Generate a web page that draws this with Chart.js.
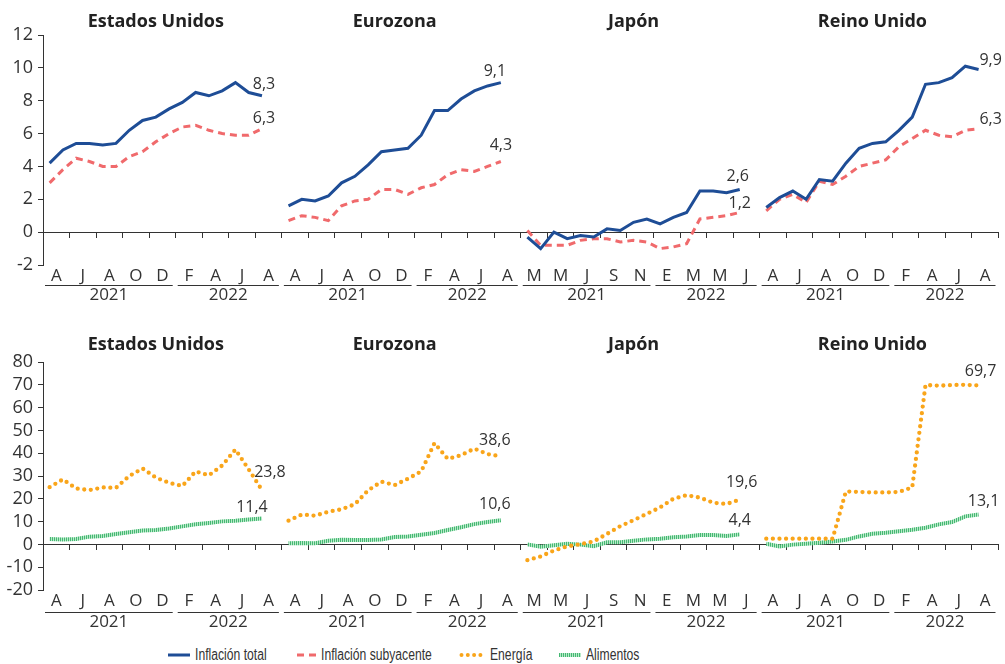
<!DOCTYPE html>
<html lang="es">
<head>
<meta charset="utf-8">
<title>Inflación</title>
<script src="https://cdn.jsdelivr.net/npm/chart.js@4.4.1/dist/chart.umd.min.js"></script>
<style>
    html, body { margin: 0; padding: 0; background: #fff; }
    #wrap { position: relative; width: 1005px; height: 664px; overflow: hidden; }
    .box { position: absolute; left: 0; width: 1005px; }
    #topBox { top: 0; height: 310px; }
    #bottomBox { top: 310px; height: 330px; }
    #legend {
        position: absolute; left: 0; top: 645px; width: 1005px; height: 20px;
        font-family: "Liberation Sans", Arial, sans-serif;
        font-size: 16px; color: #333;
    }
    .item { position: absolute; top: 0; height: 20px; display: flex; align-items: center; white-space: nowrap; }
    .item svg { margin-right: 5px; }
    .item span { display: inline-block; transform: scaleX(0.76); transform-origin: left center; }
</style>
</head>
<body>
<div id="wrap">
    <div class="box" id="topBox"><canvas id="topChart"></canvas></div>
    <div class="box" id="bottomBox"><canvas id="bottomChart"></canvas></div>
    <div id="legend">
        <div class="item" style="left:168px">
            <svg width="22" height="10"><line x1="0" y1="5" x2="22" y2="5" stroke="#1e4d96" stroke-width="3"/></svg>
            <span>Inflación total</span>
        </div>
        <div class="item" style="left:297px">
            <svg width="19" height="10"><line x1="0" y1="5" x2="19" y2="5" stroke="#f06a6c" stroke-width="3" stroke-dasharray="7 5"/></svg>
            <span>Inflación subyacente</span>
        </div>
        <div class="item" style="left:459px">
            <svg width="26" height="10"><line x1="2.5" y1="5" x2="26" y2="5" stroke="#f9a51a" stroke-width="4" stroke-linecap="round" stroke-dasharray="0 6.3"/></svg>
            <span>Energía</span>
        </div>
        <div class="item" style="left:559px">
            <svg width="22" height="10">
                <defs><pattern id="stripes" width="2" height="4" patternUnits="userSpaceOnUse">
                    <rect width="2" height="4" fill="#b8e9c9"/><rect width="1" height="4" fill="#45b872"/>
                </pattern></defs>
                <rect x="0" y="3" width="22" height="4" fill="url(#stripes)"/>
            </svg>
            <span>Alimentos</span>
        </div>
    </div>
</div>

<script>
// paneles y etiquetas
const panelNames = ['Estados Unidos', 'Eurozona', 'Japón', 'Reino Unido'];
const monthsAprToAug = ['A', 'J', 'A', 'O', 'D', 'F', 'A', 'J', 'A'];
const monthsMarToJul = ['M', 'M', 'J', 'S', 'N', 'E', 'M', 'M', 'J'];
const years = ['2021', '2022'];

// inflación total y subyacente (%)
const usTotal = [4.2, 5.0, 5.4, 5.4, 5.3, 5.4, 6.2, 6.8, 7.0, 7.5, 7.9, 8.5, 8.3, 8.6, 9.1, 8.5, 8.3];
const usCore  = [3.0, 3.8, 4.5, 4.3, 4.0, 4.0, 4.6, 4.9, 5.5, 6.0, 6.4, 6.5, 6.2, 6.0, 5.9, 5.9, 6.3];
const euTotal = [1.6, 2.0, 1.9, 2.2, 3.0, 3.4, 4.1, 4.9, 5.0, 5.1, 5.9, 7.4, 7.4, 8.1, 8.6, 8.9, 9.1];
const euCore  = [0.7, 1.0, 0.9, 0.7, 1.6, 1.9, 2.0, 2.6, 2.6, 2.3, 2.7, 2.9, 3.5, 3.8, 3.7, 4.0, 4.3];
const jpTotal = [-0.3, -1.0, 0.0, -0.4, -0.2, -0.3, 0.2, 0.1, 0.6, 0.8, 0.5, 0.9, 1.2, 2.5, 2.5, 2.4, 2.6];
const jpCore  = [0.1, -0.8, -0.8, -0.8, -0.5, -0.4, -0.4, -0.6, -0.5, -0.6, -1.0, -0.9, -0.7, 0.8, 0.9, 1.0, 1.2];
const ukTotal = [1.5, 2.1, 2.5, 2.0, 3.2, 3.1, 4.2, 5.1, 5.4, 5.5, 6.2, 7.0, 9.0, 9.1, 9.4, 10.1, 9.9];
const ukCore  = [1.3, 2.0, 2.3, 1.8, 3.1, 2.9, 3.4, 4.0, 4.2, 4.4, 5.2, 5.7, 6.2, 5.9, 5.8, 6.2, 6.3];

// energía y alimentos (%)
const usEnergy = [25.1, 28.5, 24.5, 23.8, 25.0, 24.8, 30.0, 33.3, 29.3, 27.0, 25.6, 32.0, 30.3, 34.6, 41.6, 32.9, 23.8];
const usFood   = [2.4, 2.2, 2.4, 3.4, 3.7, 4.6, 5.3, 6.1, 6.3, 7.0, 7.9, 8.8, 9.4, 10.1, 10.4, 10.9, 11.4];
const euEnergy = [10.4, 13.1, 12.6, 14.3, 15.4, 17.6, 23.7, 27.5, 26.0, 28.8, 32.0, 44.4, 37.5, 39.1, 42.0, 39.6, 38.6];
const euFood   = [0.5, 0.6, 0.5, 1.6, 2.0, 1.9, 1.9, 2.2, 3.2, 3.5, 4.2, 5.0, 6.3, 7.5, 8.9, 9.8, 10.6];
const jpEnergy = [-6.9, -5.3, -2.7, -0.9, 0.1, 1.3, 4.6, 8.0, 10.6, 13.4, 16.2, 20.0, 21.6, 20.5, 18.3, 17.7, 19.6];
const jpFood   = [0.0, -1.0, -0.4, 0.3, -0.1, -0.8, 0.9, 0.9, 1.6, 2.2, 2.5, 3.1, 3.5, 4.1, 4.1, 3.7, 4.4];
const ukEnergy = [2.5, 2.5, 2.5, 2.5, 2.5, 2.5, 23.2, 23.0, 22.8, 22.8, 23.0, 25.0, 69.9, 69.6, 69.9, 70.0, 69.7];
const ukFood   = [0.3, -0.9, -0.1, 0.3, 0.7, 1.3, 2.0, 3.5, 4.7, 5.1, 5.8, 6.4, 7.3, 8.8, 9.8, 12.3, 13.1];

// estilos
const BLUE = '#1e4d96';
const RED = '#f06a6c';
const ORANGE = '#f9a51a';
const GREEN_DARK = '#45b872';
const GREEN_LIGHT = '#b8e9c9';
const AXIS = '#333333';
const TEXT = '#333333';
const FONT = '"Open Sans", "Noto Sans", sans-serif';

const SLOTS = 18;            // meses por panel
const yearSpans = [[0, 10], [10, 18]];
const axisLabels = [].concat(monthsAprToAug, monthsAprToAug, monthsMarToJul, monthsAprToAug);

// une los cuatro paneles en una serie con un hueco entre ellos
function joinPanels(panels) {
    const points = [];
    panels.forEach((arr, p) => {
        arr.forEach((v, i) => points.push({ x: p * SLOTS + i + 0.5, y: v }));
        points.push({ x: p * SLOTS + SLOTS - 0.5, y: null });
    });
    return points;
}

function stripePattern() {
    const c = document.createElement('canvas');
    c.width = 2; c.height = 1;
    const g = c.getContext('2d');
    g.fillStyle = GREEN_LIGHT; g.fillRect(0, 0, 2, 1);
    g.fillStyle = GREEN_DARK; g.fillRect(0, 0, 1, 1);
    return g.createPattern(c, 'repeat');
}

// títulos, años y etiquetas finales
const panelDecor = {
    id: 'panelDecor',
    afterDraw(chart, args, opts) {
        const { ctx, chartArea } = chart;
        const x = chart.scales.x;
        ctx.save();
        ctx.textAlign = 'center';
        ctx.textBaseline = 'middle';

        ctx.fillStyle = '#222';
        ctx.font = 'bold 18px ' + FONT;
        panelNames.forEach((name, p) => {
            ctx.fillText(name, x.getPixelForValue(p * SLOTS + 8.5), chartArea.top - opts.titleGap);
        });

        ctx.fillStyle = TEXT;
        ctx.strokeStyle = AXIS;
        ctx.lineWidth = 1;
        ctx.font = '17px ' + FONT;
        const yl = Math.round(chartArea.bottom + opts.yearLine) + 0.5;
        panelNames.forEach((name, p) => {
            yearSpans.forEach(([from, to], i) => {
                const x1 = x.getPixelForValue(p * SLOTS + from) + 2;
                const x2 = x.getPixelForValue(p * SLOTS + to) - 3;
                ctx.beginPath();
                ctx.moveTo(x1, yl);
                ctx.lineTo(x2, yl);
                ctx.stroke();
                ctx.fillText(years[i], (x1 + x2) / 2, chartArea.bottom + opts.yearText);
            });
        });

        ctx.font = '16px ' + FONT;
        opts.series.forEach((panels, d) => {
            const meta = chart.getDatasetMeta(d);
            panels.forEach((arr, p) => {
                const idx = p * (SLOTS) + arr.length - 1;
                const pt = meta.data[idx];
                const [dx, dy] = opts.offsets[d][p];
                const txt = arr[arr.length - 1].toFixed(1).replace('.', ',');
                ctx.fillText(txt, pt.x + dx, pt.y + dy);
            });
        });
        ctx.restore();
    }
};

function makeScales(yMin, yMax, step, labelHeight) {
    return {
        x: {
            type: 'linear', min: 0, max: 72, position: { y: 0 },
            ticks: { display: false, stepSize: 2, maxTicksLimit: 100 },
            grid: { drawOnChartArea: false, drawTicks: true, tickLength: 5, color: AXIS },
            border: { color: AXIS, width: 1 }
        },
        xc: {
            type: 'category', labels: axisLabels, offset: true, position: 'bottom',
            grid: { display: false, drawTicks: false },
            border: { display: false },
            ticks: { autoSkip: false, maxRotation: 0, padding: 1, color: TEXT, font: { family: FONT, size: 17 } },
            afterFit: s => { s.height = labelHeight; }
        },
        y: {
            min: yMin, max: yMax, position: 'left',
            ticks: { stepSize: step, autoSkip: false, maxTicksLimit: 30, padding: 5, color: TEXT, font: { family: FONT, size: 18 } },
            grid: { drawOnChartArea: false, tickLength: 5, color: AXIS },
            border: { color: AXIS, width: 1 },
            afterFit: s => { s.width = 43; }
        }
    };
}

function lineSet(label, data, color, extra) {
    return Object.assign({
        label, data,
        borderColor: color, borderWidth: 3,
        pointRadius: 0, tension: 0, spanGaps: false, fill: false
    }, extra);
}

function initTopChart() {
    const topSeries = [[usTotal, euTotal, jpTotal, ukTotal], [usCore, euCore, jpCore, ukCore]];
    new Chart(document.getElementById('topChart'), {
        type: 'line',
        data: {
            datasets: [
                lineSet('Inflación total', joinPanels(topSeries[0]), BLUE),
                lineSet('Inflación subyacente', joinPanels(topSeries[1]), RED, { borderDash: [7, 5] })
            ]
        },
        options: {
            responsive: true, maintainAspectRatio: false, animation: false,
            layout: { padding: { top: 35, right: 6.5, left: 0, bottom: 0 } },
            scales: makeScales(-2, 12, 2, 45),
            plugins: {
                legend: { display: false }, tooltip: { enabled: false },
                panelDecor: {
                    titleGap: 13, yearLine: 20, yearText: 30,
                    series: topSeries,
                    offsets: [
                        [[2, -11], [-6, -11], [-2, -13], [12, -9]],
                        [[2, -10], [0, -16], [0, -9], [12, -9]]
                    ]
                }
            }
        },
        plugins: [panelDecor]
    });
}

function initBottomChart() {
    const bottomSeries = [[usEnergy, euEnergy, jpEnergy, ukEnergy], [usFood, euFood, jpFood, ukFood]];
    new Chart(document.getElementById('bottomChart'), {
        type: 'line',
        data: {
            datasets: [
                lineSet('Energía', joinPanels(bottomSeries[0]), ORANGE, {
                    borderWidth: 4.3, borderDash: [0, 6.6], borderCapStyle: 'round'
                }),
                lineSet('Alimentos', joinPanels(bottomSeries[1]), stripePattern(), { borderWidth: 4 })
            ]
        },
        options: {
            responsive: true, maintainAspectRatio: false, animation: false,
            layout: { padding: { top: 52, right: 6.5, left: 0, bottom: 0 } },
            scales: makeScales(-20, 80, 10, 50),
            plugins: {
                legend: { display: false }, tooltip: { enabled: false },
                panelDecor: {
                    titleGap: 17, yearLine: 21.5, yearText: 32,
                    series: bottomSeries,
                    offsets: [
                        [[8, -18], [-6, -16], [2, -17], [2, -14]],
                        [[-10, -11], [-6, -16], [0, -14], [5, -13]]
                    ]
                }
            }
        },
        plugins: [panelDecor]
    });
}

document.addEventListener('DOMContentLoaded', function() {
    initTopChart();
    initBottomChart();
});
</script>
</body>
</html>
